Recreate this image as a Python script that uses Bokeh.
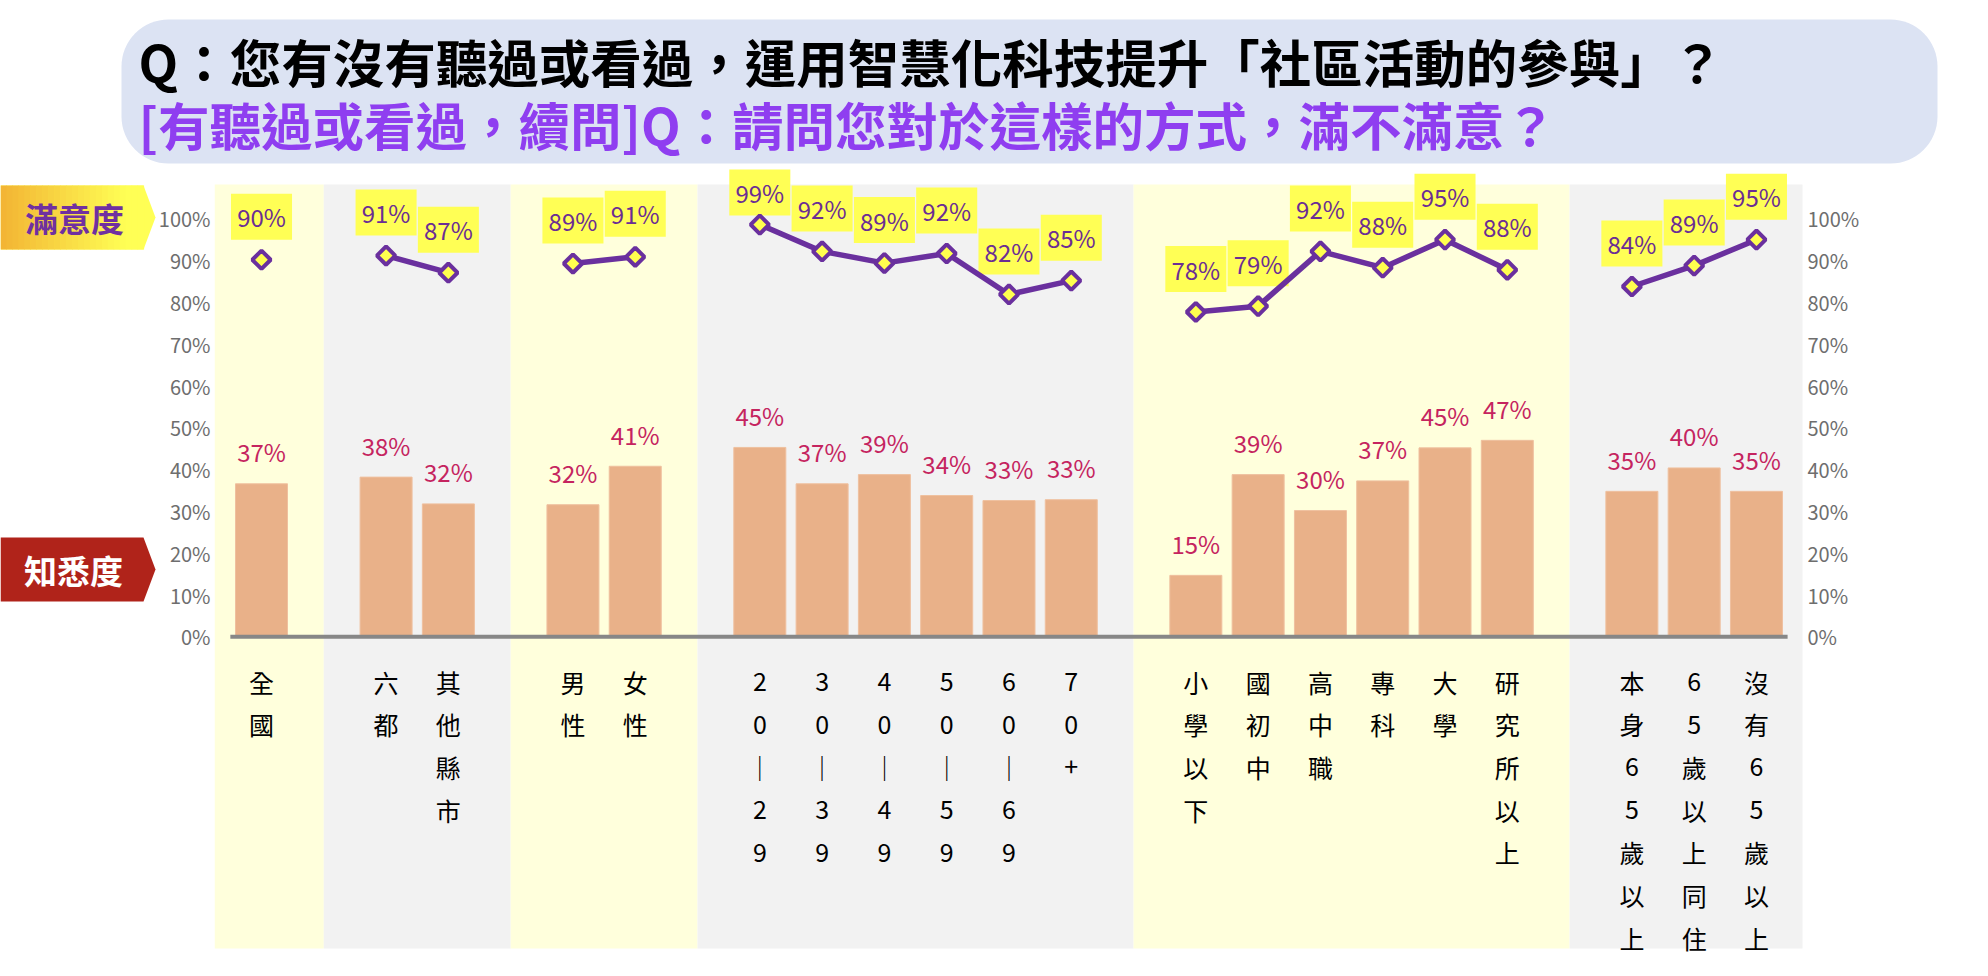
import numpy as np
from bokeh.plotting import figure
from bokeh.models import Range1d, BoxAnnotation
from bokeh.core.properties import value
from bokeh.embed import file_html
from bokeh.resources import INLINE

# ---------------- data ----------------
title_line1 = "Q：您有沒有聽過或看過，運用智慧化科技提升「社區活動的參與」？"
title_line2 = "[有聽過或看過，續問]Q：請問您對於這樣的方式，滿不滿意？"
series_names = ["滿意度", "知悉度"]

categories = ["全國",
              "六都", "其他縣市",
              "男性", "女性",
              "20-29", "30-39", "40-49", "50-59", "60-69", "70+",
              "小學以下", "國初中", "高中職", "專科", "大學", "研究所以上",
              "本身65歲以上", "65歲以上同住", "沒有65歲以上"]
group_sizes = [1, 2, 2, 6, 6, 3]

awareness = [36.6,
             38.2, 31.8,
             31.6, 40.8,
             45.3, 36.6, 38.8, 33.8, 32.6, 32.8,
             14.7, 38.8, 30.2, 37.3, 45.2, 47.0,
             34.8, 40.4, 34.8]
satisfaction = [90.2,
                91.2, 87.1,
                89.3, 90.9,
                98.6, 92.2, 89.4, 91.7, 81.9, 85.2,
                77.7, 79.1, 92.2, 88.3, 95.0, 87.8,
                83.8, 88.8, 95.0]
tick_values = [0, 10, 20, 30, 40, 50, 60, 70, 80, 90, 100]
tick_labels = [f"{t}%" for t in tick_values]

# ---------------- layout helpers (picture pixels -> data) ----------------
PX0, PX_SLOT = 261.0, 62.29      # x pixel of first category, pixels per slot
PY0, PY_UNIT = 636.3, 4.18       # y pixel of 0 %, pixels per 1 %
def px2x(px):
    return (px - PX0) / PX_SLOT
def px2y(py):
    return (PY0 - py) / PY_UNIT

FONT = value("Noto Sans CJK TC")

p = figure(width=1972, height=960, output_backend="svg", toolbar_location=None,
           x_axis_location=None, y_axis_location=None, min_border=0,
           x_range=Range1d(px2x(0), px2x(1972)), y_range=Range1d(px2y(960), px2y(0)),
           outline_line_color=None, background_fill_color="white",
           border_fill_color="white")
p.grid.visible = False

# category slots: one empty slot between groups
xs, groups = [], []
s = 0
for g in group_sizes:
    grp = []
    for _ in range(g):
        xs.append(s); grp.append(len(xs) - 1); s += 1
    groups.append(grp)
    s += 1
xs_arr = np.array(xs, dtype=float)
aw = np.array(awareness)
sat = np.array(satisfaction)

# ---------------- title box ----------------
p.add_layout(BoxAnnotation(left=px2x(121), right=px2x(1937), top=px2y(19), bottom=px2y(163),
                           fill_color="#DCE3F3", fill_alpha=1.0, line_color=None,
                           border_radius=47, level="underlay"))
p.text(x=[px2x(138)], y=[px2y(60)], text=[title_line1], text_font=FONT,
       text_font_size="51.5px", text_font_style="bold", text_color="#000000",
       text_align="left", text_baseline="middle")
p.text(x=[px2x(138)], y=[px2y(123)], text=[title_line2], text_font=FONT,
       text_font_size="51.5px", text_font_style="bold", text_color="#8F3EF0",
       text_align="left", text_baseline="middle")

# ---------------- background bands ----------------
band_colors = ["#FFFFDC", "#F2F2F2"]
lefts, rights, cols = [], [], []
for gi, grp in enumerate(groups):
    first, last = xs[grp[0]], xs[grp[-1]]
    lefts.append(first - 0.75 if gi == 0 else first - 1)
    rights.append(last + 0.74 if gi == len(groups) - 1 else last + 1)
    cols.append(band_colors[gi % 2])
p.quad(left=lefts, right=rights, top=px2y(184), bottom=px2y(948),
       fill_color=cols, line_color=None)

# ---------------- bars ----------------
p.vbar(x=xs_arr, top=aw, bottom=0, width=0.835, fill_color="#E9B189",
       line_color="#EFC09F", line_width=1)
p.segment(x0=[xs_arr[0] - 0.5], x1=[xs_arr[-1] + 0.5], y0=[0], y1=[0],
          line_color="#878787", line_width=4)
p.text(x=xs_arr, y=aw, text=[f"{v:.0f}%" for v in aw], y_offset=-32,
       text_font=FONT, text_font_size="24px", text_color="#C5245F",
       text_align="center", text_baseline="middle")

# ---------------- satisfaction labels (boxes) ----------------
label_y = np.minimum(sat + 43 / PY_UNIT, px2y(192))
p.rect(x=xs_arr, y=label_y, width=0.98, height=46 / PY_UNIT,
       fill_color="#FFFF55", line_color=None)
p.text(x=xs_arr, y=label_y, text=[f"{v:.0f}%" for v in sat],
       text_font=FONT, text_font_size="24px", text_color="#6B2D94",
       text_align="center", text_baseline="middle")

# ---------------- satisfaction line + markers ----------------
line_xs = [[xs[i] for i in grp] for grp in groups if len(grp) > 1]
line_ys = [[satisfaction[i] for i in grp] for grp in groups if len(grp) > 1]
p.multi_line(xs=line_xs, ys=line_ys, line_color="#6A309E", line_width=5.5,
             line_join="round")
p.scatter(x=xs_arr, y=sat, marker="square", angle=np.pi / 4, size=13,
          fill_color="#FFFF4F", line_color="#6A309E", line_width=4)

# ---------------- tick labels (both sides) ----------------
p.text(x=px2x(210), y=tick_values, text=tick_labels, text_font=FONT,
       text_font_size="20px", text_color="#6E6E6E", text_align="right",
       text_baseline="middle")
p.text(x=px2x(1807), y=tick_values, text=tick_labels, text_font=FONT,
       text_font_size="20px", text_color="#6E6E6E", text_align="left",
       text_baseline="middle")

# ---------------- vertical category labels ----------------
cx, cy, ct = [], [], []
for i, name in enumerate(categories):
    for j, ch in enumerate(name):
        cx.append(xs[i])
        cy.append(px2y(681 + j * 42.7))
        ct.append("｜" if ch == "-" else ch)
p.text(x=cx, y=cy, text=ct, text_font=FONT, text_font_size="25px",
       text_color="#000000", text_align="center", text_baseline="middle")

# ---------------- series tags on the left ----------------
# 滿意度 : gradient orange -> yellow pentagon
top1, bot1, mid1 = px2y(185), px2y(249), px2y(217)
p.patch(x=[px2x(0), px2x(143), px2x(155), px2x(143), px2x(0)],
        y=[top1, top1, mid1, bot1, bot1], fill_color="#FFFF55", line_color=None)
n_strips = 24
edges = np.linspace(0, 143, n_strips + 1)
c0, c1 = np.array([243, 180, 52]), np.array([255, 255, 85])
strip_cols = []
for k in range(n_strips):
    t = min(1.0, (edges[k] + edges[k + 1]) / 2 / 125)
    c = (c0 + (c1 - c0) * t).astype(int)
    strip_cols.append("#%02x%02x%02x" % tuple(c))
p.quad(left=[px2x(e) for e in edges[:-1]], right=[px2x(e + 0.6) for e in edges[1:]],
       top=top1, bottom=bot1, fill_color=strip_cols, line_color=None)
p.text(x=[px2x(74)], y=[mid1], text=[series_names[0]], text_font=FONT,
       text_font_size="33px", text_font_style="bold", text_color="#7030A0",
       text_align="center", text_baseline="middle")

# 知悉度 : dark red pentagon
top2, bot2, mid2 = px2y(537), px2y(601), px2y(569)
p.patch(x=[px2x(0), px2x(143), px2x(155), px2x(143), px2x(0)],
        y=[top2, top2, mid2, bot2, bot2], fill_color="#B0231A", line_color=None)
p.text(x=[px2x(73)], y=[mid2], text=[series_names[1]], text_font=FONT,
       text_font_size="33px", text_font_style="bold", text_color="#FFFFFF",
       text_align="center", text_baseline="middle")

open("out.html", "w").write(file_html(p, INLINE))
